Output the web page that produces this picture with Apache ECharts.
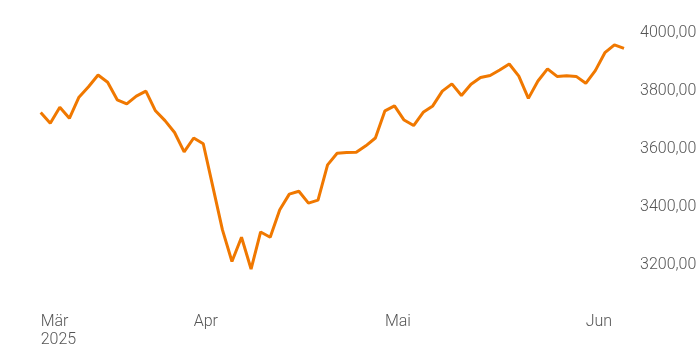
<!DOCTYPE html>
<html><head><meta charset="utf-8">
<script src="https://cdn.jsdelivr.net/npm/echarts@6/dist/echarts.min.js"></script>
<style>html,body{margin:0;padding:0;background:#fff}#c{width:700px;height:350px}</style>
</head><body><div id="c"></div>
<script>
const dates = [
 '2025-03-10','2025-03-11','2025-03-12','2025-03-13','2025-03-14','2025-03-17','2025-03-18','2025-03-19','2025-03-20','2025-03-21',
 '2025-03-24','2025-03-25','2025-03-26','2025-03-27','2025-03-28','2025-03-31',
 '2025-04-01','2025-04-02','2025-04-03','2025-04-04','2025-04-07','2025-04-08','2025-04-09','2025-04-10','2025-04-11','2025-04-14',
 '2025-04-15','2025-04-16','2025-04-17','2025-04-22','2025-04-23','2025-04-24','2025-04-25','2025-04-28','2025-04-29','2025-04-30',
 '2025-05-02','2025-05-05','2025-05-06','2025-05-07','2025-05-08','2025-05-09','2025-05-12','2025-05-13','2025-05-14','2025-05-15',
 '2025-05-16','2025-05-19','2025-05-20','2025-05-21','2025-05-22','2025-05-23','2025-05-26','2025-05-27','2025-05-28','2025-05-29','2025-05-30',
 '2025-06-02','2025-06-03','2025-06-04','2025-06-05','2025-06-06'
];
const values = [
 3726,3689,3744,3706,3779,3815,3856,3831,3770,3756,
 3783,3800,3732,3698,3657,3590,
 3638,3618,3470,3321,3211,3295,3185,3313,3295,3390,
 3444,3454,3413,3423,3545,3585,3588,3589,3611,3638,
 3732,3749,3700,3681,3727,3749,3800,3825,3785,3824,
 3847,3854,3873,3894,3852,3775,3835,3877,3851,3853,3851,
 3827,3871,3933,3960,3948
];
const monthNames = ['Jan','Feb','Mär','Apr','Mai','Jun','Jul','Aug','Sep','Okt','Nov','Dez'];
const yTicks = [3200,3400,3600,3800,4000];

function isMonthStart(i){
  if(i===0) return true;
  return dates[i].slice(5,7)!==dates[i-1].slice(5,7);
}
const chart = echarts.init(document.getElementById('c'));
chart.setOption({
  animation:false,
  grid:{left:40.7,right:76,top:33.3,bottom:56.4,containLabel:false},
  xAxis:{
    type:'category',data:dates,boundaryGap:false,
    axisLine:{show:false},axisTick:{show:false},splitLine:{show:false},
    axisLabel:{
      interval:function(i){return isMonthStart(i);},
      formatter:function(v,i){
        const m = monthNames[parseInt(v.slice(5,7),10)-1];
        return i===0 ? m+'\n'+v.slice(0,4) : m;
      },
      align:'left',margin:20,fontSize:16,lineHeight:17.5,
      color:'#555',fontFamily:'Roboto',fontWeight:300
    }
  },
  yAxis:{
    type:'value',position:'right',min:3100,max:4000,
    axisLine:{show:false},axisTick:{show:false},splitLine:{show:false},
    axisLabel:{
      margin:16,fontSize:16,color:'#555',fontFamily:'Roboto',fontWeight:300,
      customValues:yTicks,
      formatter:function(v){return yTicks.indexOf(v)<0?'':v.toFixed(2).replace('.',',');}
    }
  },
  series:[{type:'line',data:values,showSymbol:false,symbol:'none',
    lineStyle:{color:'#f07800',width:3},itemStyle:{color:'#f07800'}}]
});
</script></body></html>
